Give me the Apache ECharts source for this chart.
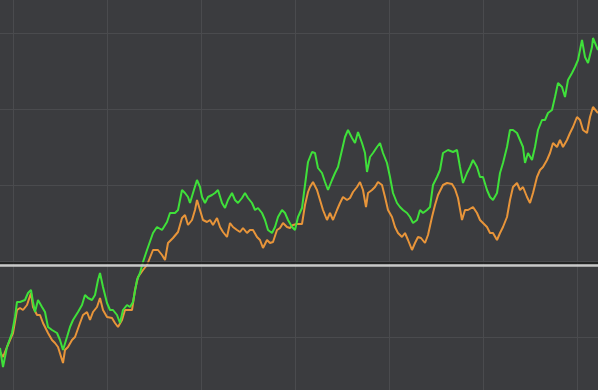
<!DOCTYPE html>
<html>
<head>
<meta charset="utf-8">
<script src="https://cdn.jsdelivr.net/npm/echarts@6/dist/echarts.min.js"></script>
<style>
html,body{margin:0;padding:0;background:#3b3c3f;}
#chart{width:598px;height:390px;}
</style>
</head>
<body>
<div id="chart"></div>
<script>
// Time index of each reading (series A, green)
const greenT = [0,3,7,12,15,17,20,25,28,31,33,35,38,42,45,48,52,57,60,63,67,70,73,78,82,85,88,92,95,98,100,103,107,110,113,117,120,123,127,130,133,137,140,143,147,153,157,162,167,170,175,178,182,185,188,190,193,197,198,200,202,205,208,212,215,218,222,225,228,232,235,238,242,245,248,252,255,258,262,265,268,272,275,278,282,285,288,292,295,298,302,305,308,310,312,315,318,322,325,328,332,335,338,342,345,348,352,355,358,362,365,367,370,373,377,380,383,387,390,393,397,400,403,407,410,413,417,420,423,427,430,433,437,440,443,448,453,457,460,463,467,470,473,477,480,483,487,490,493,497,500,503,507,510,513,517,520,523,525,528,532,535,538,542,545,548,552,555,558,562,565,568,572,575,578,582,585,588,592,593,598];
const greenV = [42,23,43,57,73,88,88,90,97,100,88,78,90,83,78,63,60,57,50,40,53,63,70,78,85,95,92,90,95,110,117,103,87,80,80,75,67,80,85,83,88,110,117,128,140,157,163,160,168,177,177,180,200,197,193,187,197,210,212,203,193,187,193,195,197,200,187,182,190,197,190,187,192,197,192,187,180,182,177,170,160,157,163,173,180,177,170,163,160,173,182,205,228,233,238,237,222,217,208,200,210,217,223,240,253,260,252,247,258,247,237,218,233,237,243,247,237,227,213,197,187,183,180,177,173,167,170,180,177,180,183,205,213,220,237,240,238,240,223,207,217,223,230,223,213,213,200,193,190,197,217,227,243,260,260,257,250,243,227,237,230,243,260,270,270,277,280,293,307,303,293,310,317,323,330,350,333,327,343,352,340];
// Series B (orange)
const orangeT = [0,3,7,13,17,20,23,27,31,33,37,40,43,48,52,55,58,63,65,68,72,75,80,83,87,90,93,97,100,103,107,112,115,118,122,125,128,132,135,138,143,147,153,158,162,165,168,173,178,182,185,188,192,195,197,200,203,207,210,213,217,220,223,227,230,233,237,240,243,247,250,253,257,260,263,267,270,273,277,280,283,287,290,293,297,302,305,308,310,313,317,320,323,327,330,333,337,340,343,347,350,353,357,360,363,366,368,372,375,378,382,385,388,392,395,398,402,405,408,412,415,418,421,425,428,432,435,438,443,447,452,455,458,462,465,468,473,477,480,483,487,490,493,497,500,503,507,510,513,517,520,523,527,530,533,537,540,543,547,550,553,557,560,563,567,570,573,577,580,583,587,590,593,598];
const orangeV = [38,33,43,57,80,82,80,85,97,83,75,75,67,57,50,47,43,27,40,43,50,53,67,75,78,70,78,83,92,80,73,72,67,63,70,80,80,80,100,113,120,125,140,140,135,130,147,152,158,172,175,165,170,180,190,180,170,168,170,165,172,163,158,153,167,163,160,158,162,157,160,160,153,150,142,150,147,148,160,162,167,163,162,165,166,166,185,198,203,208,200,190,180,170,177,170,180,187,193,190,192,198,203,208,200,183,197,200,203,208,205,193,180,173,163,157,153,157,150,140,147,153,152,147,155,173,185,195,205,207,206,201,192,170,180,180,183,177,170,167,163,157,157,150,157,163,173,190,203,207,200,203,193,187,197,213,220,223,230,237,247,243,250,243,250,257,263,273,270,260,257,273,283,277];
// Reference level (horizontal rule)
const baseLevel = 125;

const green = greenT.map((t, i) => [t, greenV[i]]);
const orange = orangeT.map((t, i) => [t, orangeV[i]]);

const chart = echarts.init(document.getElementById('chart'), null, {renderer: 'canvas'});
const hidden = {axisLine:{show:false}, axisTick:{show:false}, axisLabel:{show:false}};
chart.setOption({
  backgroundColor: '#3b3c3f',
  animation: false,
  grid: [
    {left: 0, right: 0, top: 0, bottom: 0, containLabel: false, outerBoundsMode: 'none'},
    {left: -81, width: 752, top: -43, height: 456, containLabel: false, outerBoundsMode: 'none'}
  ],
  xAxis: [
    Object.assign({type: 'value', gridIndex: 0, min: 0, max: 598, splitLine: {show: false}}, hidden),
    Object.assign({type: 'value', gridIndex: 1, min: 0, max: 752, interval: 94,
      splitLine: {show: true, lineStyle: {color: '#4a4b4e', width: 1}}}, hidden)
  ],
  yAxis: [
    Object.assign({type: 'value', gridIndex: 0, min: 0, max: 390, splitLine: {show: false}}, hidden),
    Object.assign({type: 'value', gridIndex: 1, min: 0, max: 456, interval: 76,
      splitLine: {show: true, lineStyle: {color: '#4a4b4e', width: 1}}}, hidden)
  ],
  series: [
    {type: 'line', xAxisIndex: 1, yAxisIndex: 1, data: [], silent: true},
    {
      type: 'line', xAxisIndex: 0, yAxisIndex: 0, data: [], z: 1, silent: true,
      markLine: {
        silent: true, symbol: 'none', label: {show: false}, animation: false,
        data: [
          {yAxis: baseLevel + 2.5, lineStyle: {color: '#1c1c1c', width: 1.5, type: 'solid'}},
          {yAxis: baseLevel, lineStyle: {color: '#c8c8c8', width: 2.5, type: 'solid'}}
        ]
      }
    },
    {
      type: 'line', xAxisIndex: 0, yAxisIndex: 0, data: orange, z: 3,
      showSymbol: false, symbol: 'none',
      lineStyle: {color: '#e8953a', width: 2}
    },
    {
      type: 'line', xAxisIndex: 0, yAxisIndex: 0, data: green, z: 4,
      showSymbol: false, symbol: 'none',
      lineStyle: {color: '#3fe03a', width: 2}
    }
  ]
});
</script>
</body>
</html>
